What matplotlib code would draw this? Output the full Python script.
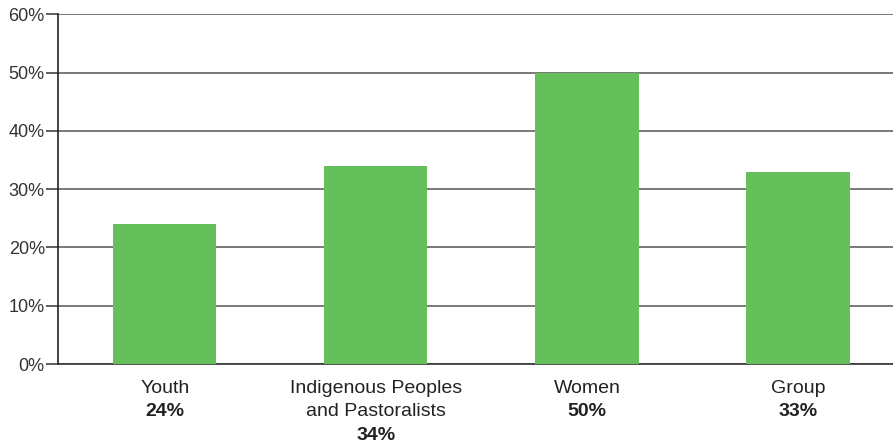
import matplotlib.pyplot as plt

categorias = ['Youth', 'Indigenous Peoples\nand Pastoralists', 'Women', 'Group']
valores = [24, 34, 50, 33]
etiquetas = ['24%', '34%', '50%', '33%']
ticks_y = [0, 10, 20, 30, 40, 50, 60]

plt.rcParams['font.family'] = ['Liberation Sans', 'DejaVu Sans']

fig = plt.figure(figsize=(8.93, 4.44), dpi=100)
ax = fig.add_axes([0.065, 0.18, 0.935, 0.788])

x = range(len(categorias))
ax.bar(x, valores, width=0.49, color='#65BF5A', zorder=3)

# lineas de la grilla
ax.set_ylim(0, 60)
ax.set_xlim(-0.505, 3.45)
ax.set_yticks(ticks_y)
ax.set_yticklabels([f'{t}%' for t in ticks_y], fontsize=13, color='#333333')
ax.yaxis.grid(True, color='#555555', linewidth=1.1, zorder=0)
ax.tick_params(axis='y', length=9, width=1.1, color='#333333', pad=0.5)
ax.tick_params(axis='x', length=0)
ax.set_xticks([])

for s in ['top', 'right']:
    ax.spines[s].set_visible(False)
ax.spines['left'].set_color('#222222')
ax.spines['left'].set_linewidth(1.2)
ax.spines['bottom'].set_color('#333333')
ax.spines['bottom'].set_linewidth(1.2)

# etiquetas de categorias, una linea a la vez
paso = 16.8
for i, (c, e) in enumerate(zip(categorias, etiquetas)):
    lineas = c.split('\n')
    for j, l in enumerate(lineas):
        ax.annotate(l, xy=(i, 0), xycoords=('data', 'axes fraction'),
                    xytext=(0, -11.5 - paso * j), textcoords='offset points',
                    ha='center', va='top', fontsize=14, color='#222222')
    ax.annotate(e, xy=(i, 0), xycoords=('data', 'axes fraction'),
                xytext=(0, -11.5 - paso * len(lineas)), textcoords='offset points',
                ha='center', va='top', fontsize=14, fontweight='bold', color='#222222')

plt.savefig('out.png', dpi=100)
